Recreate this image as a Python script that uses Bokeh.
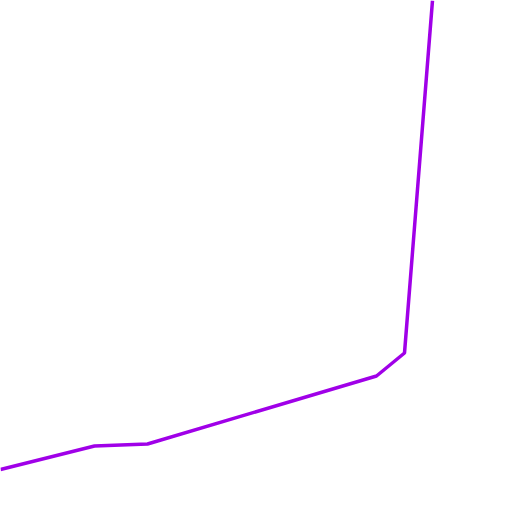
from bokeh.plotting import figure
from bokeh.models import Range1d
from bokeh.embed import file_html
from bokeh.resources import INLINE

# Values
x_vals = [0, 94, 147, 376, 404, 432]
y_vals = [43, 66.5, 68.5, 136.5, 159.5, 512]

p = figure(width=512, height=512, output_backend="svg", toolbar_location=None,
           x_range=Range1d(0, 512), y_range=Range1d(0, 512), min_border=0)
p.axis.visible = False
p.grid.visible = False
p.outline_line_color = None
p.background_fill_color = "white"
p.border_fill_color = "white"

p.line(x_vals, y_vals, line_color="#a000e8", line_width=3.5)

open("out.html", "w").write(file_html(p, INLINE))
